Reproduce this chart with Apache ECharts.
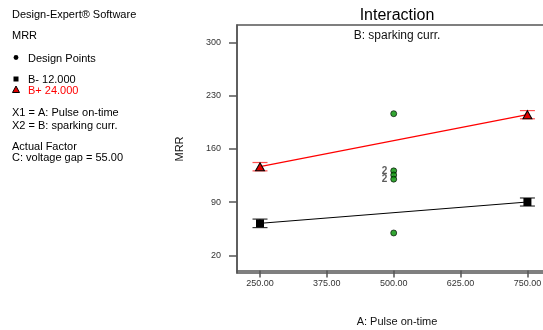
<!DOCTYPE html>
<html>
<head>
<meta charset="utf-8">
<script src="https://cdn.jsdelivr.net/npm/echarts@6/dist/echarts.min.js"></script>
<style>
  html, body { margin: 0; padding: 0; background: #fff; }
  #chart { width: 543px; height: 330px; }
</style>
</head>
<body>
<div id="chart"></div>
<script>
// A: Pulse on-time levels
const pulseOnTime = [250, 750];
// Predicted MRR at B- (12.000) and B+ (24.000)
const mrrBMinus = [62.1, 90.2];
const mrrBPlus = [136.7, 205.2];
// Half-width of the LSD bars at each level
const barBMinus = [5.6, 5.3];
const barBPlus = [5.5, 5.4];
// Design points (center runs) and replicate counts
const designX = [500, 500, 500, 500, 500];
const designY = [206.5, 131.2, 125.8, 120.3, 49.4];
const designCount = [1, 2, 1, 2, 1];
// Axis ticks
const xTicks = [250, 375, 500, 625, 750];
const yTicks = [20, 90, 160, 230, 300];

const FONT = '"Liberation Sans", Arial, sans-serif';

const chart = echarts.init(document.getElementById('chart'), null, { renderer: 'canvas' });

function pairs(xs, ys) { return xs.map((x, i) => [x, ys[i]]); }

function errorBars(mid, half) {
  return pulseOnTime.map((x, i) => [x, mid[i] - half[i], mid[i] + half[i]]);
}

function barRenderer(color) {
  return function (params, api) {
    const lo = api.coord([api.value(0), api.value(1)]);
    const hi = api.coord([api.value(0), api.value(2)]);
    const w = 7.5;
    const style = { stroke: color, lineWidth: 1.2 };
    return {
      type: 'group',
      children: [
        { type: 'line', shape: { x1: lo[0], y1: lo[1], x2: hi[0], y2: hi[1] }, style },
        { type: 'line', shape: { x1: lo[0] - w, y1: lo[1], x2: lo[0] + w, y2: lo[1] }, style },
        { type: 'line', shape: { x1: hi[0] - w, y1: hi[1], x2: hi[0] + w, y2: hi[1] }, style }
      ]
    };
  };
}

const legendText = (y, text, color, x) => ({
  type: 'text', left: x || 12, top: y,
  style: { text, fill: color || '#000', font: '11px ' + FONT }
});

chart.setOption({
  animation: false,
  backgroundColor: '#fff',
  title: {
    text: 'Interaction',
    subtext: 'B: sparking curr.',
    left: 392, top: 3, textAlign: 'center',
    itemGap: 6,
    textStyle: { fontFamily: FONT, fontSize: 16, fontWeight: 'normal', color: '#000' },
    subtextStyle: { fontFamily: FONT, fontSize: 12, color: '#111' }
  },
  grid: {
    left: 237, top: 25, width: 330, height: 248,
    outerBoundsMode: 'none', containLabel: false,
    show: true, borderColor: '#555', borderWidth: 1.5, backgroundColor: 'transparent'
  },
  xAxis: {
    type: 'value', min: 207, max: 824,
    name: 'A: Pulse on-time', nameLocation: 'middle', nameGap: 43,
    nameTextStyle: { fontFamily: FONT, fontSize: 11, color: '#111', padding: [0, 10, 0, 0] },
    axisLine: { show: true, lineStyle: { color: '#555', width: 1.5 } },
    axisTick: { show: true, length: 7, lineStyle: { color: '#555', width: 1.5 }, customValues: xTicks },
    axisLabel: {
      fontFamily: FONT, fontSize: 9, color: '#333', margin: 6,
      customValues: xTicks, formatter: v => v.toFixed(2)
    },
    splitLine: { show: false }
  },
  yAxis: {
    type: 'value', min: -3.3, max: 323.3,
    name: 'MRR', nameLocation: 'middle', nameGap: 52, nameRotate: 90,
    nameTextStyle: { fontFamily: FONT, fontSize: 11, color: '#111' },
    axisLine: { show: true, lineStyle: { color: '#555', width: 1.5 } },
    axisTick: { show: true, length: 8, lineStyle: { color: '#555', width: 1.5 }, customValues: yTicks },
    axisLabel: {
      fontFamily: FONT, fontSize: 9, color: '#333', margin: 16,
      customValues: yTicks
    },
    splitLine: { show: false }
  },
  graphic: [
    legendText(9, 'Design-Expert\u00ae Software'),
    legendText(30, 'MRR'),
    { type: 'circle', shape: { cx: 16, cy: 57.5, r: 2.4 }, style: { fill: '#000' } },
    legendText(53, 'Design Points', '#000', 28),
    { type: 'rect', shape: { x: 13.5, y: 76.5, width: 5, height: 5 }, style: { fill: '#000' } },
    legendText(74, 'B- 12.000', '#000', 28),
    { type: 'polygon', shape: { points: [[16, 86], [12.5, 92.5], [19.5, 92.5]] }, style: { fill: '#e00000', stroke: '#000', lineWidth: 1 } },
    legendText(85, 'B+ 24.000', '#ff0000', 28),
    legendText(107, 'X1 = A: Pulse on-time'),
    legendText(120, 'X2 = B: sparking curr.'),
    legendText(141, 'Actual Factor'),
    legendText(152, 'C: voltage gap = 55.00')
  ],
  series: [
    {
      name: 'B- 12.000', type: 'line', data: pairs(pulseOnTime, mrrBMinus),
      lineStyle: { color: '#000', width: 1 },
      symbol: 'rect', symbolSize: 8,
      itemStyle: { color: '#000' }, z: 3
    },
    {
      name: 'B+ 24.000', type: 'line', data: pairs(pulseOnTime, mrrBPlus),
      lineStyle: { color: '#ff0000', width: 1.2 },
      symbol: 'triangle', symbolSize: [9, 8],
      itemStyle: { color: '#e00000', borderColor: '#000', borderWidth: 1 }, z: 3
    },
    {
      type: 'custom', renderItem: barRenderer('#333'),
      data: errorBars(mrrBMinus, barBMinus), encode: { x: 0, y: [1, 2] }, z: 2
    },
    {
      type: 'custom', renderItem: barRenderer('#ff5050'),
      data: errorBars(mrrBPlus, barBPlus), encode: { x: 0, y: [1, 2] }, z: 2
    },
    {
      name: 'Design Points', type: 'scatter',
      data: designX.map((x, i) => ({
        value: [x, designY[i]],
        label: {
          show: designCount[i] > 1, formatter: String(designCount[i]),
          position: 'left', distance: 3,
          fontFamily: FONT, fontSize: 10, fontWeight: 'bold', color: '#333'
        }
      })),
      symbol: 'circle', symbolSize: 6,
      itemStyle: { color: '#008f00', borderColor: '#000', borderWidth: 0.8 }, z: 4
    }
  ]
});
</script>
</body>
</html>
